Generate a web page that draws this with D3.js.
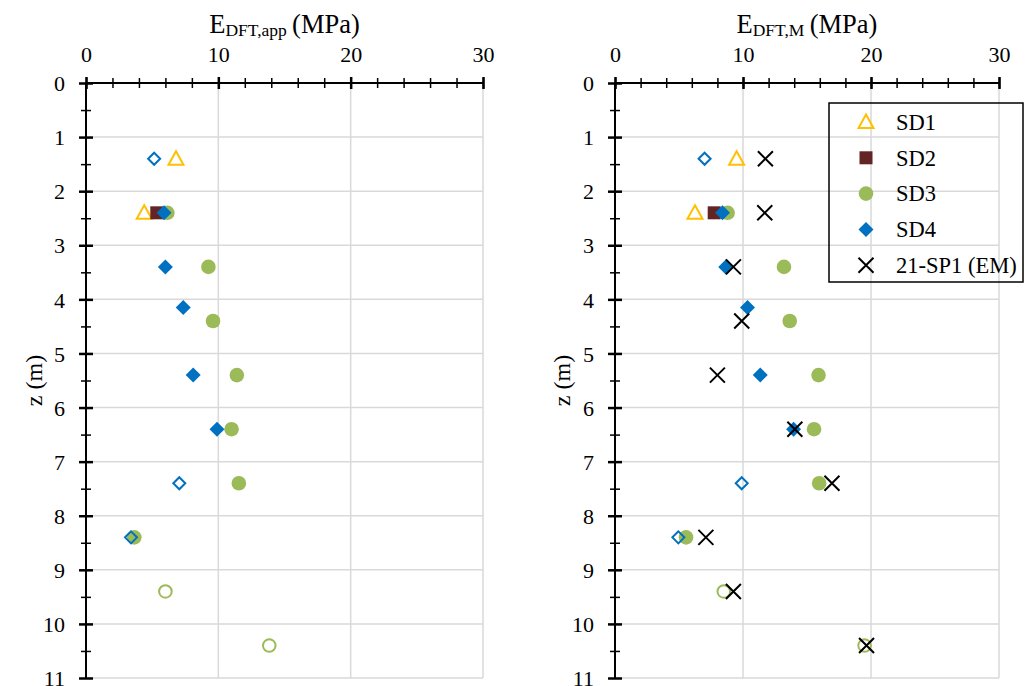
<!DOCTYPE html>
<html><head><meta charset="utf-8">
<script src="https://cdn.jsdelivr.net/npm/d3@7"></script>
<style>
body{margin:0;background:#fff;}
</style></head>
<body><svg id="chart" width="1025" height="686"></svg>
<script>
// ---- data ----
const xTicks = [0, 10, 20, 30];
const yTicks = [0,1,2,3,4,5,6,7,8,9,10,11];
const legendLabels = ["SD1","SD2","SD3","SD4","21-SP1 (EM)"];

const sd1Z = [1.4, 2.4];
const sd1App = [6.8, 4.4];
const sd1M = [9.5, 6.25];

const sd2Z = [2.4];
const sd2App = [5.35];
const sd2M = [7.75];

const sd3Z = [2.4, 3.4, 4.4, 5.4, 6.4, 7.4, 8.4];
const sd3App = [6.15, 9.25, 9.6, 11.4, 11.0, 11.55, 3.65];
const sd3M = [8.8, 13.2, 13.65, 15.9, 15.55, 15.95, 5.55];

const sd3OpenZ = [9.4, 10.4];
const sd3OpenApp = [6.0, 13.85];
const sd3OpenM = [8.5, 19.5];

const sd4Z = [2.4, 3.4, 4.15, 5.4, 6.4];
const sd4App = [5.9, 6.0, 7.35, 8.1, 9.9];
const sd4M = [8.4, 8.65, 10.35, 11.35, 13.95];

const sd4OpenZ = [1.4, 7.4, 8.4];
const sd4OpenApp = [5.15, 7.05, 3.4];
const sd4OpenM = [7.0, 9.9, 4.95];

const emZ = [1.4, 2.4, 3.4, 4.4, 5.4, 6.4, 7.4, 8.4, 9.4, 10.4];
const emM = [11.75, 11.7, 9.25, 9.9, 8.0, 14.05, 16.95, 7.1, 9.25, 19.65];

// ---- styles ----
const C = {sd1:"#FFC000", sd2:"#632523", sd3:"#9BBB59", sd4:"#0070C0", em:"#000"};
const FONT = "Liberation Serif";
const svg = d3.select("#chart");

function marker(g, type, cx, cy){
  const s = g.append("g").attr("transform",`translate(${cx},${cy})`);
  if(type==="tri"){
    s.append("path").attr("d","M0,-7.5 L7.5,6 L-7.5,6 Z").attr("fill","none").attr("stroke",C.sd1).attr("stroke-width",2);
  } else if(type==="sq"){
    s.append("rect").attr("x",-6.5).attr("y",-6.5).attr("width",13).attr("height",13).attr("fill",C.sd2);
  } else if(type==="circ"){
    s.append("circle").attr("r",7.3).attr("fill",C.sd3);
  } else if(type==="circOpen"){
    s.append("circle").attr("r",6.3).attr("fill","none").attr("stroke",C.sd3).attr("stroke-width",2);
  } else if(type==="dia"){
    s.append("path").attr("d","M0,-7.5 L7.5,0 L0,7.5 L-7.5,0 Z").attr("fill",C.sd4);
  } else if(type==="diaOpen"){
    s.append("path").attr("d","M0,-6 L6,0 L0,6 L-6,0 Z").attr("fill","none").attr("stroke",C.sd4).attr("stroke-width",2);
  } else if(type==="x"){
    s.append("path").attr("d","M-7.5,-7.5 L7.5,7.5 M-7.5,7.5 L7.5,-7.5").attr("stroke",C.em).attr("stroke-width",2);
  }
}

function panel(opts){
  const x = d3.scaleLinear().domain([0,30]).range([opts.x0, opts.x1]);
  const y = d3.scaleLinear().domain([0,11]).range([83, 678]);
  const g = svg.append("g");

  // gridlines
  g.append("g").selectAll("line").data(yTicks.slice(1)).join("line")
    .attr("x1",x(0)).attr("x2",x(30)).attr("y1",d=>y(d)).attr("y2",d=>y(d))
    .attr("stroke","#d9d9d9").attr("stroke-width",1.5);
  g.append("g").selectAll("line").data(xTicks.slice(1)).join("line")
    .attr("x1",d=>x(d)).attr("x2",d=>x(d)).attr("y1",y(0)).attr("y2",y(11))
    .attr("stroke","#d9d9d9").attr("stroke-width",1.5);

  // x axis (top)
  const xMinor = g.append("g").attr("transform",`translate(0,${y(0)})`)
    .call(d3.axisTop(x).tickValues(d3.range(0,31,2)).tickFormat("").tickSizeOuter(0));
  xMinor.select(".domain").remove();
  xMinor.selectAll(".tick line").attr("y1",5).attr("y2",-5).attr("stroke-width",1.5);
  const xMajor = g.append("g").attr("transform",`translate(0,${y(0)})`)
    .call(d3.axisTop(x).tickValues(xTicks).tickSizeOuter(0));
  xMajor.attr("font-family",FONT);
  xMajor.select(".domain").attr("stroke-width",2).attr("d",`M${x(0)},0H${x(30)}`);
  xMajor.selectAll(".tick line").attr("y1",6).attr("y2",-6).attr("stroke-width",2.5);
  xMajor.selectAll(".tick text").attr("y",-21).attr("font-size",22).attr("fill","#000");

  // y axis (left)
  const yMinor = g.append("g").attr("transform",`translate(${x(0)},0)`)
    .call(d3.axisLeft(y).tickValues(d3.range(0.5,11,1)).tickFormat("").tickSizeOuter(0));
  yMinor.select(".domain").remove();
  yMinor.selectAll(".tick line").attr("x1",-5).attr("x2",5).attr("stroke-width",1.5);
  const yMajor = g.append("g").attr("transform",`translate(${x(0)},0)`)
    .call(d3.axisLeft(y).tickValues(yTicks).tickSizeOuter(0));
  yMajor.attr("font-family",FONT);
  yMajor.select(".domain").attr("stroke-width",2).attr("d",`M0,${y(0)}V${y(11)}`);
  yMajor.selectAll(".tick line").attr("x1",-7).attr("x2",7).attr("stroke-width",2.5);
  yMajor.selectAll(".tick text").attr("x",-21).attr("dy","0.35em").attr("font-size",22).attr("fill","#000");

  // titles
  const t = g.append("text").attr("x",(x(0)+x(30))/2).attr("y",33).attr("text-anchor","middle")
    .attr("font-family",FONT).attr("font-size",26.5).attr("fill","#000");
  t.append("tspan").text("E");
  t.append("tspan").attr("font-size",17.5).attr("dy",2.5).text(opts.sub);
  t.append("tspan").attr("dy",-2.5).text("\u2009(MPa)");

  g.append("text").attr("transform",`translate(${opts.zx},${(y(0)+y(11))/2}) rotate(-90)`)
    .attr("font-family",FONT)
    .attr("text-anchor","middle").attr("dy","0.35em").attr("font-size",24).attr("fill","#000").text("z (m)");

  // points
  const pts = g.append("g");
  const draw = (zs, es, type) => zs.forEach((z,i)=>marker(pts,type,x(es[i]),y(z)));
  draw(sd1Z, opts.sd1, "tri");
  draw(sd2Z, opts.sd2, "sq");
  draw(sd3Z, opts.sd3, "circ");
  draw(sd3OpenZ, opts.sd3o, "circOpen");
  draw(sd4Z, opts.sd4, "dia");
  draw(sd4OpenZ, opts.sd4o, "diaOpen");
  if(opts.em) draw(emZ, opts.em, "x");
  return {x,y,g};
}

panel({x0:86, x1:483, zx:34, sub:"DFT,app", sd1:sd1App, sd2:sd2App, sd3:sd3App, sd3o:sd3OpenApp, sd4:sd4App, sd4o:sd4OpenApp});
panel({x0:615, x1:999, zx:562, sub:"DFT,M", sd1:sd1M, sd2:sd2M, sd3:sd3M, sd3o:sd3OpenM, sd4:sd4M, sd4o:sd4OpenM, em:emM});

// legend
const lg = svg.append("g");
lg.append("rect").attr("x",829).attr("y",103).attr("width",194).attr("height",179)
  .attr("fill","none").attr("stroke","#000").attr("stroke-width",1.5);
const types = ["tri","sq","circ","dia","x"];
legendLabels.forEach((lab,i)=>{
  const cy = 122 + i*35.8;
  marker(lg, types[i], 866, cy);
  lg.append("text").attr("x",896).attr("y",cy).attr("dy","0.35em").attr("font-family",FONT)
    .attr("font-size",22.5).attr("fill","#000").text(lab);
});
</script></body></html>
